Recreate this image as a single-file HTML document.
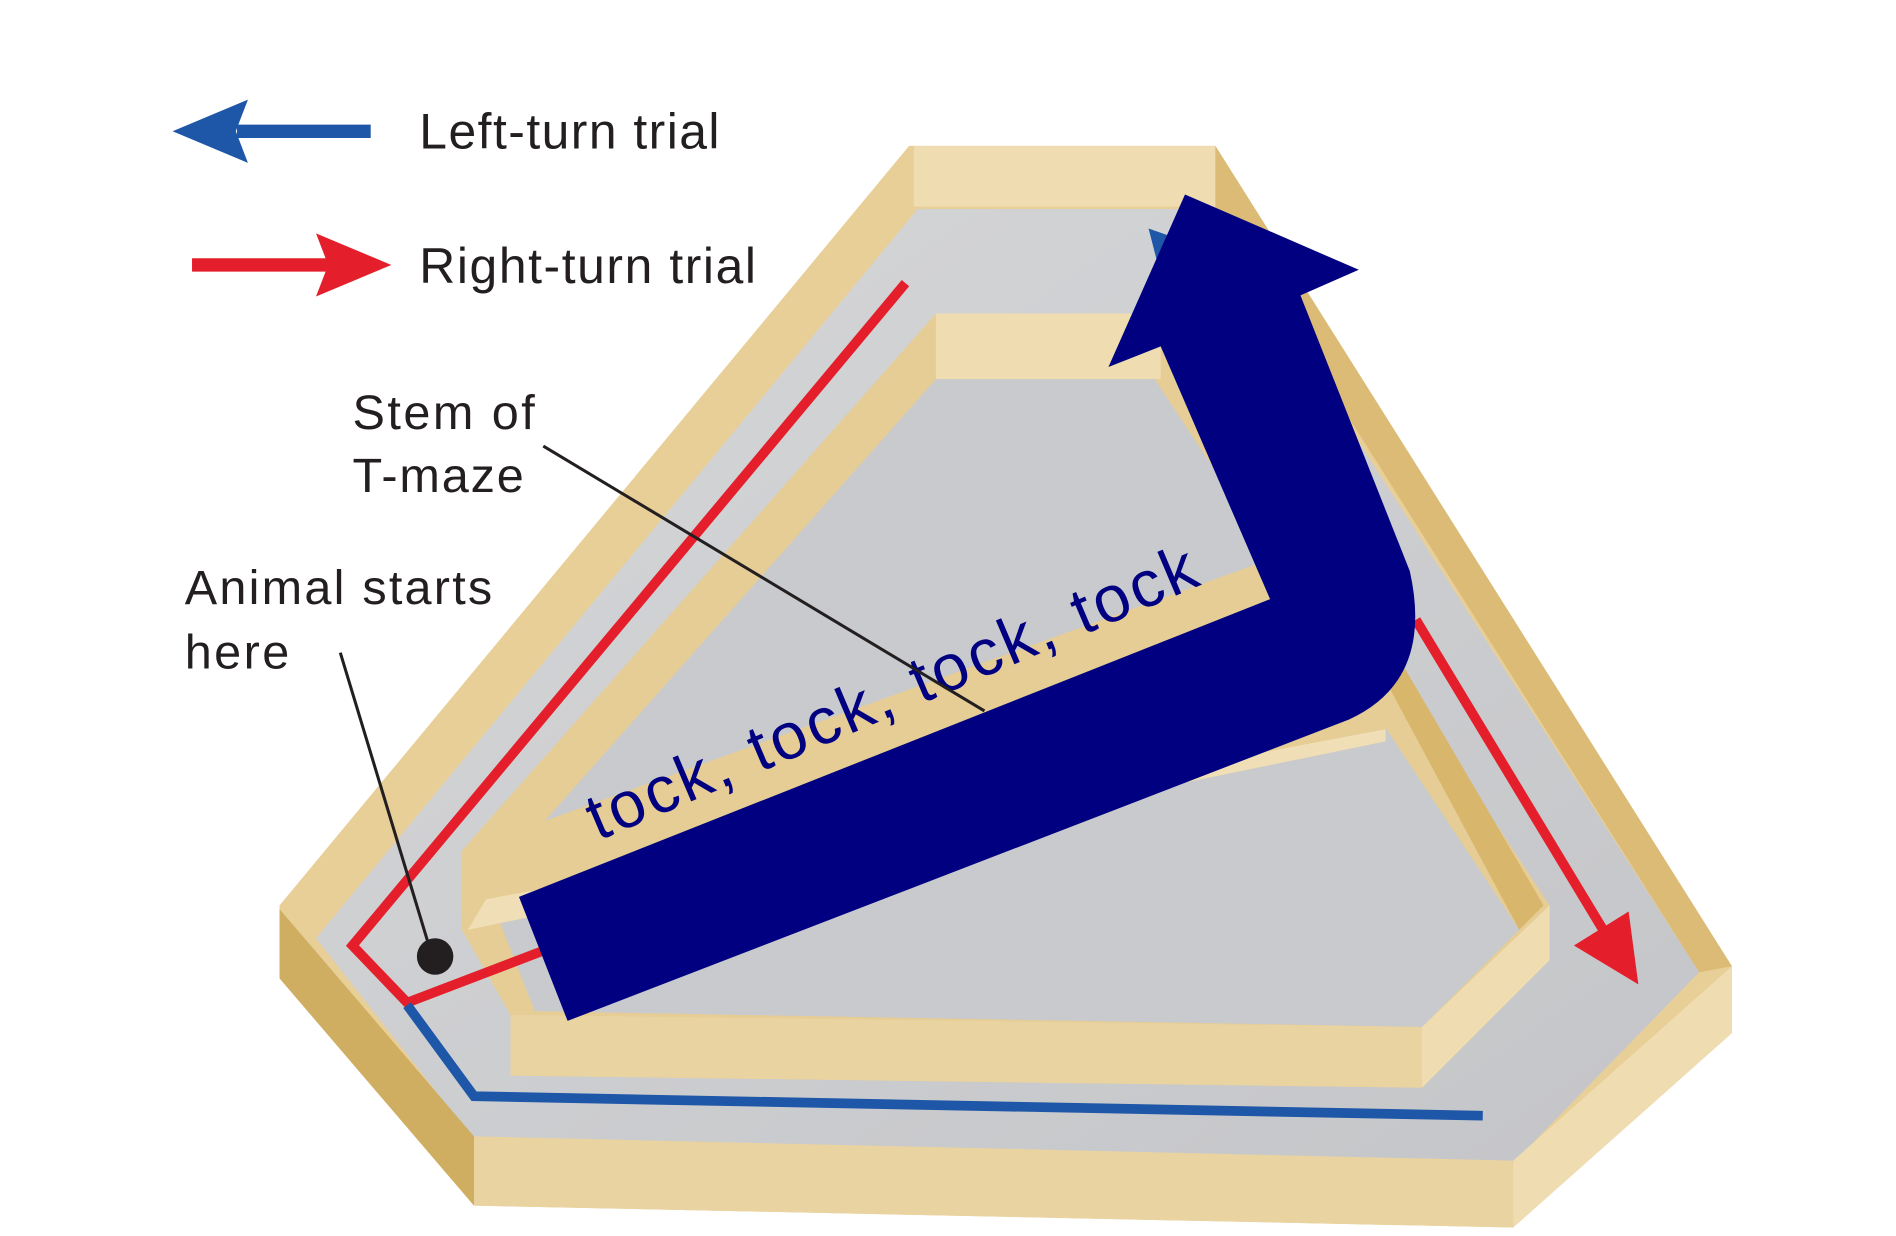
<!DOCTYPE html>
<html><head><meta charset="utf-8"><style>html,body{margin:0;padding:0;background:#fff}svg{display:block}</style></head>
<body>
<svg width="1896" height="1236" viewBox="0 0 1560 1017" preserveAspectRatio="none" xmlns="http://www.w3.org/2000/svg" font-family="Liberation Sans, sans-serif">
<defs>
<linearGradient id="fl" x1="0" y1="0" x2="1" y2="1"><stop offset="0" stop-color="#d6d7d9"/><stop offset="1" stop-color="#c4c5c8"/></linearGradient>
</defs>
<g>
<polygon points="748,120 1000,120 1425,795 1425,850 1245,1010 390,992 230,805 230,745" fill="#e8cf97"/>
<polygon points="752,120 1000,120 1000,170 752,170" fill="#efdcb0"/>
<polygon points="755,172 995,172 1398,800 1245,957 390,938 260,772" fill="url(#fl)"/>
<polygon points="230,748 390,935 390,992 230,805" fill="#cfae62"/>
<polygon points="390,935 1245,955 1245,1010 390,992" fill="#e9d3a0"/>
<polygon points="1245,955 1425,795 1425,850 1245,1010" fill="#efdcb0"/>
<polygon points="1000,120 1425,795 1398,800 1000,170" fill="#dcbb76"/>
</g>
<g>
<polygon points="770,258 955,258 1275,745 1275,790 1170,895 420,885 420,835 380,765 380,700" fill="#e6cd95"/>
<polygon points="770,258 955,258 955,312 770,312" fill="#efdcb0"/>
<polygon points="775,312 950,312 1250,765 1170,845 440,832 400,730 770,312" fill="#c9cacd"/>
<polygon points="420,835 1170,845 1170,895 420,885" fill="#e9d3a0"/>
<polygon points="1170,845 1275,745 1275,790 1170,895" fill="#efdcb0"/>
<polygon points="1140,560 1250,765 1270,745 1150,540" fill="#d8b66c"/>
<polygon points="380,700 1040,462 1045,495 1140,560 1140,610 385,765" fill="#e6cd95"/>
<polygon points="385,765 1140,610 1140,600 400,740" fill="#f0dfb6"/>
</g>
<g fill="none" stroke-width="8">
<polyline points="745,233 290,778 335,825 445,783" stroke="#e41f2b"/>
<polyline points="335,827 390,902 1220,918" stroke="#1e56a8"/>
<line x1="1165" y1="510" x2="1322" y2="770" stroke="#e41f2b"/>
<polygon points="1295,778 1348,810 1340,750" fill="#e41f2b" stroke="none"/>
<polygon points="945,188 965,195 952,215" fill="#1e56a8" stroke="none"/>
</g>
<path d="M427,738 L1045,493 L955,285 L912,302 L975,160 L1118,222 L1070,243 L1160,470 Q1180,560 1110,592 L467,840 Z" fill="#000080"/>
<text x="0" y="0" transform="translate(492,692) rotate(-23)" font-size="54" textLength="540" fill="#000080">tock, tock, tock, tock</text>
<g>
<line x1="195" y1="108" x2="305" y2="108" stroke="#1e56a8" stroke-width="11"/>
<polygon points="142,108 204,82 194,108 204,134" fill="#1e56a8"/>
<text x="345" y="122" font-size="41" textLength="247" fill="#231f20">Left-turn trial</text>
<line x1="158" y1="218" x2="270" y2="218" stroke="#e41f2b" stroke-width="11"/>
<polygon points="322,218 260,192 270,218 260,244" fill="#e41f2b"/>
<text x="345" y="233" font-size="41" textLength="277" fill="#231f20">Right-turn trial</text>
</g>
<g fill="#231f20" font-size="40">
<text x="290" y="353" textLength="150">Stem of</text>
<text x="290" y="405" textLength="141">T-maze</text>
<line x1="447" y1="367" x2="810" y2="585" stroke="#231f20" stroke-width="2.5"/>
<text x="152" y="497" textLength="253">Animal starts</text>
<text x="152" y="550" textLength="86">here</text>
<line x1="280" y1="537" x2="352" y2="775" stroke="#231f20" stroke-width="2.5"/>
<circle cx="358" cy="787" r="15" fill="#231f20"/>
</g>
</svg>
</body></html>
